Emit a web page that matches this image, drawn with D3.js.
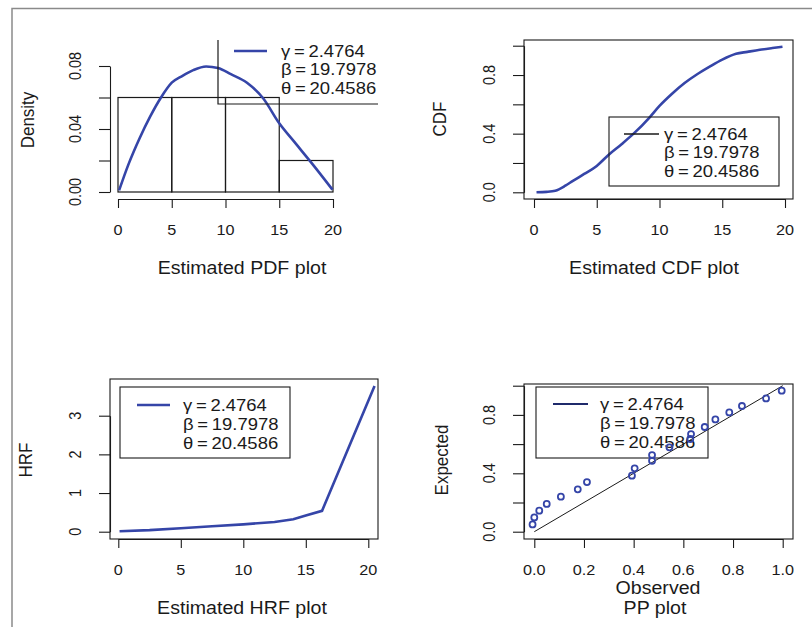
<!DOCTYPE html>
<html>
<head>
<meta charset="utf-8">
<script src="https://cdn.jsdelivr.net/npm/d3@7"></script>
<style>
  html, body { margin: 0; padding: 0; background: #fff; }
  svg { display: block; font-family: "Liberation Sans", Arial, Helvetica, sans-serif; }
</style>
</head>
<body>
<svg id="chart" width="812" height="627"></svg>
<script>
// Estimated PDF (histogram + fitted density)
const histBreaks = [0, 5, 10, 15, 20];
const histDensity = [0.06, 0.06, 0.06, 0.02];
const pdfX = [0.1, 1, 2, 3, 4, 5, 6, 7, 8.2, 9.3, 10.5, 12, 13.5, 15, 16.5, 18, 19.95];
const pdfY = [0.001, 0.018, 0.034, 0.048, 0.06, 0.0694, 0.0738, 0.0774, 0.0797, 0.0787, 0.0748, 0.0694, 0.0595, 0.0436, 0.031, 0.0185, 0.0015];

// Estimated CDF
const cdfX = [0.2, 1, 1.7, 2.5, 3.1, 4, 5, 6, 7, 8, 9.2, 10, 11, 12, 13, 14, 15, 16.1, 17, 18, 19, 19.8];
const cdfY = [0.0, 0.003, 0.011, 0.045, 0.078, 0.125, 0.18, 0.26, 0.33, 0.405, 0.51, 0.589, 0.672, 0.745, 0.805, 0.857, 0.905, 0.945, 0.958, 0.972, 0.984, 0.993];

// Estimated HRF
const hrfX = [0.1, 2.5, 5, 7.5, 10, 12.5, 14, 15, 16.3, 20.5];
const hrfY = [0.01, 0.04, 0.09, 0.14, 0.19, 0.25, 0.32, 0.42, 0.54, 3.77];

// PP plot
const ppObserved = [-0.007, 0.0, 0.02, 0.05, 0.107, 0.175, 0.212, 0.393, 0.404, 0.474, 0.474, 0.544, 0.628, 0.631, 0.686, 0.729, 0.785, 0.836, 0.933, 0.996];
const ppExpected = [0.05, 0.098, 0.144, 0.19, 0.24, 0.29, 0.34, 0.384, 0.434, 0.486, 0.525, 0.578, 0.635, 0.669, 0.717, 0.769, 0.817, 0.861, 0.913, 0.966];

// Legend text
const legendLines = ['\u03B3\u2009=\u20092.4764', '\u03B2\u2009=\u200919.7978', '\u03B8\u2009=\u200920.4586'];

const BLUE = '#3545a8';
const NAVY = '#1f2a6b';
const INK = '#1a1a1a';
const SX = 1.12; // the figure is stretched a little horizontally

const svg = d3.select('#chart');
svg.append('rect').attr('width', 812).attr('height', 627).attr('fill', '#fff');

// outer frame (top + left edges only)
svg.append('path')
  .attr('d', 'M12,627V8.5H812')
  .attr('fill', 'none').attr('stroke', '#8a8a8a').attr('stroke-width', 1.5);

function label(g, x, y, str, size, opts = {}) {
  const rot = opts.rotate ? ' rotate(-90)' : '';
  return g.append('text')
    .attr('transform', `translate(${x},${y}) scale(${SX},1)${rot}`)
    .attr('dy', '0.35em')
    .attr('text-anchor', opts.anchor || 'middle')
    .attr('font-size', size)
    .attr('fill', INK)
    .text(str);
}

function drawAxes(g, x, y, xAt, yAt, xTicks, xLabels, yTicks, yLabels) {
  g.append('g')
    .attr('transform', `translate(0,${xAt})`)
    .call(d3.axisBottom(x).tickValues(xTicks).tickSize(9).tickSizeOuter(0).tickFormat(''))
    .call((a) => a.selectAll('path,line').attr('stroke', INK).attr('stroke-width', 1.1));
  g.append('g')
    .attr('transform', `translate(${yAt},0)`)
    .call(d3.axisLeft(y).tickValues(yTicks).tickSize(11).tickSizeOuter(0).tickFormat(''))
    .call((a) => a.selectAll('path,line').attr('stroke', INK).attr('stroke-width', 1.1));
  xLabels.forEach((d) => label(g, x(d.v), xAt + 31, d.t, 14.5));
  yLabels.forEach((d) => label(g, yAt - 35, y(d.v), d.t, 14.5, {rotate: true}));
}

function drawBox(g, x0, x1, y0, y1, stroke, sw) {
  g.append('rect')
    .attr('x', x0).attr('y', y0).attr('width', x1 - x0).attr('height', y1 - y0)
    .attr('fill', 'none').attr('stroke', stroke || INK).attr('stroke-width', sw || 1.1);
}

function drawLegend(g, lineX0, lineX1, textX, rowY, step, color, lw) {
  g.append('line')
    .attr('x1', lineX0).attr('x2', lineX1).attr('y1', rowY).attr('y2', rowY)
    .attr('stroke', color).attr('stroke-width', lw);
  legendLines.forEach((t, i) => label(g, textX, rowY + i * step, t, 16.5, {anchor: 'start'}));
}

const curve = (x, y, kind) => d3.line().curve(kind || d3.curveLinear).x((d) => x(d[0])).y((d) => y(d[1]));

// ---------- Panel 1: PDF ----------
{
  const g = svg.append('g');
  const x = d3.scaleLinear().domain([0, 20]).range([118, 333]);
  const y = d3.scaleLinear().domain([0, 0.08]).range([192, 66]);

  g.selectAll('.bar')
    .data(histDensity)
    .join('rect')
    .attr('x', (d, i) => x(histBreaks[i]))
    .attr('width', (d, i) => x(histBreaks[i + 1]) - x(histBreaks[i]))
    .attr('y', (d) => y(d))
    .attr('height', (d) => y(0) - y(d))
    .attr('fill', 'none').attr('stroke', INK).attr('stroke-width', 1.2);

  drawAxes(g, x, y, 199, 110,
    [0, 5, 10, 15, 20], [0, 5, 10, 15, 20].map((v) => ({v, t: String(v)})),
    [0, 0.02, 0.04, 0.06, 0.08], [0, 0.04, 0.08].map((v) => ({v, t: v.toFixed(2)})));

  g.append('path')
    .datum(pdfX.map((v, i) => [v, pdfY[i]]))
    .attr('d', curve(x, y, d3.curveMonotoneX))
    .attr('fill', 'none').attr('stroke', BLUE).attr('stroke-width', 2.6);

  // legend box, clipped by the figure region (only left and bottom edges show)
  g.append('path').attr('d', 'M218,40V104H378')
    .attr('fill', 'none').attr('stroke', INK).attr('stroke-width', 1.2);
  drawLegend(g, 234, 267, 281, 51, 18.5, BLUE, 2.6);

  label(g, 242, 268, 'Estimated PDF plot', 17.5);
  label(g, 27, 120, 'Density', 17, {rotate: true});
}

// ---------- Panel 2: CDF ----------
{
  const g = svg.append('g');
  const x = d3.scaleLinear().domain([0, 20]).range([534, 785]);
  const y = d3.scaleLinear().domain([0, 1]).range([192.3, 45.7]);

  drawBox(g, 524, 793, 40, 199);
  drawAxes(g, x, y, 199, 524,
    [0, 5, 10, 15, 20], [0, 5, 10, 15, 20].map((v) => ({v, t: String(v)})),
    [0, 0.2, 0.4, 0.6, 0.8, 1], [0, 0.4, 0.8].map((v) => ({v, t: v.toFixed(1)})));

  g.append('path')
    .datum(cdfX.map((v, i) => [v, cdfY[i]]))
    .attr('d', curve(x, y, d3.curveMonotoneX))
    .attr('fill', 'none').attr('stroke', BLUE).attr('stroke-width', 2.6);

  drawBox(g, 609, 779, 117, 186);
  drawLegend(g, 624, 659, 664, 134, 18.5, INK, 1.4);

  label(g, 654, 268, 'Estimated CDF plot', 17.5);
  label(g, 439, 119, 'CDF', 17, {rotate: true});
}

// ---------- Panel 3: HRF ----------
{
  const g = svg.append('g');
  const x = d3.scaleLinear().domain([0, 20]).range([118.3, 368.3]);
  const y = d3.scaleLinear().domain([0, 3]).range([531.7, 415.7]);

  drawBox(g, 110, 378, 379, 539);
  drawAxes(g, x, y, 539, 110,
    [0, 5, 10, 15, 20], [0, 5, 10, 15, 20].map((v) => ({v, t: String(v)})),
    [0, 1, 2, 3], [0, 1, 2, 3].map((v) => ({v, t: String(v)})));

  g.append('path')
    .datum(hrfX.map((v, i) => [v, hrfY[i]]))
    .attr('d', curve(x, y))
    .attr('fill', 'none').attr('stroke', BLUE).attr('stroke-width', 2.6);

  drawBox(g, 120, 290, 387, 458);
  drawLegend(g, 137, 170, 183, 405, 19, BLUE, 2.6);

  label(g, 242, 608, 'Estimated HRF plot', 17.5);
  label(g, 25, 460, 'HRF', 17, {rotate: true});
}

// ---------- Panel 4: PP plot ----------
{
  const g = svg.append('g');
  const x = d3.scaleLinear().domain([0, 1]).range([534.3, 782.7]);
  const y = d3.scaleLinear().domain([0, 1]).range([531.7, 385.7]);

  drawBox(g, 524, 793, 384, 539);
  drawAxes(g, x, y, 539, 524,
    [0, 0.2, 0.4, 0.6, 0.8, 1], [0, 0.2, 0.4, 0.6, 0.8, 1].map((v) => ({v, t: v.toFixed(1)})),
    [0, 0.2, 0.4, 0.6, 0.8, 1], [0, 0.4, 0.8].map((v) => ({v, t: v.toFixed(1)})));

  drawBox(g, 536, 708, 387, 458);
  drawLegend(g, 553, 588, 600, 404, 19, NAVY, 2.2);

  g.append('line')
    .attr('x1', x(0)).attr('y1', y(0)).attr('x2', x(1)).attr('y2', y(1))
    .attr('stroke', INK).attr('stroke-width', 1);

  g.selectAll('.pt')
    .data(ppObserved.map((v, i) => [v, ppExpected[i]]))
    .join('circle')
    .attr('cx', (d) => x(d[0])).attr('cy', (d) => y(d[1])).attr('r', 3)
    .attr('fill', 'none').attr('stroke', BLUE).attr('stroke-width', 1.8);

  label(g, 658, 588, 'Observed', 17.5);
  label(g, 655, 608, 'PP plot', 17.5);
  label(g, 441, 460, 'Expected', 17, {rotate: true});
}
</script>
</body>
</html>
